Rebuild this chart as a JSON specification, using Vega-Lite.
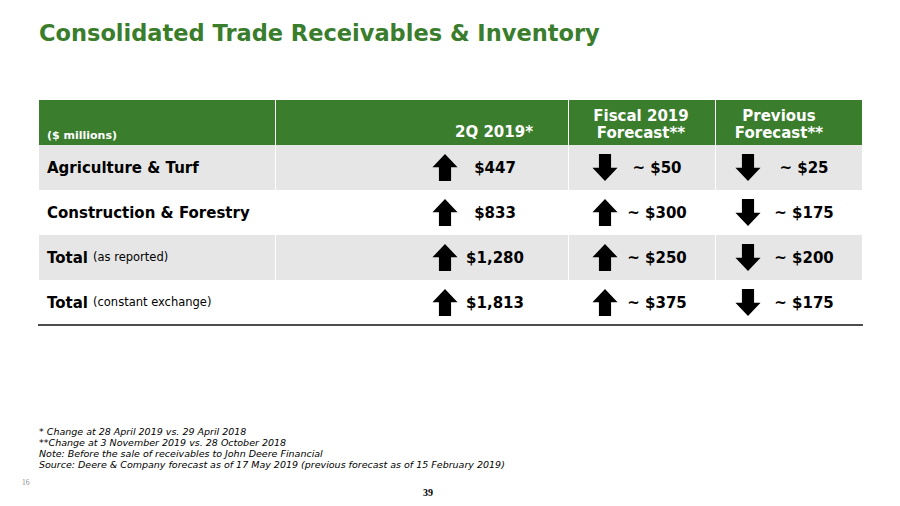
{
  "$schema": "https://vega.github.io/schema/vega-lite/v6.json",
  "background": "white",
  "padding": {"left": 0, "top": 22, "right": 0, "bottom": 0},
  "config": {"view": {"stroke": null}},
  "title": {
    "text": "Consolidated Trade Receivables & Inventory",
    "anchor": "start",
    "frame": "group",
    "font": "DejaVu Sans",
    "fontWeight": "bold",
    "fontSize": 22.5,
    "color": "#3A7D2C",
    "dx": 39,
    "offset": 55
  },
  "datasets": {
    "rows": [{"row": "h"}, {"row": "r1"}, {"row": "r2"}, {"row": "r3"}, {"row": "r4"}],
    "cells": [
      {"row": "h", "col": "label", "text": "($ millions)"},
      {"row": "r1", "col": "label", "text": "Agriculture & Turf", "note": ""},
      {"row": "r2", "col": "label", "text": "Construction & Forestry", "note": ""},
      {"row": "r3", "col": "label", "text": "Total", "note": "(as reported)"},
      {"row": "r4", "col": "label", "text": "Total", "note": "(constant exchange)"},
      {"row": "h", "col": "q2", "text": "2Q 2019*"},
      {"row": "r1", "col": "q2", "text": "$447", "dir": "up"},
      {"row": "r2", "col": "q2", "text": "$833", "dir": "up"},
      {"row": "r3", "col": "q2", "text": "$1,280", "dir": "up"},
      {"row": "r4", "col": "q2", "text": "$1,813", "dir": "up"},
      {"row": "h", "col": "fy", "text": ["Fiscal 2019", "Forecast**"]},
      {"row": "r1", "col": "fy", "text": "~ $50", "dir": "down"},
      {"row": "r2", "col": "fy", "text": "~ $300", "dir": "up"},
      {"row": "r3", "col": "fy", "text": "~ $250", "dir": "up"},
      {"row": "r4", "col": "fy", "text": "~ $375", "dir": "up"},
      {"row": "h", "col": "prev", "text": ["Previous", "Forecast**"]},
      {"row": "r1", "col": "prev", "text": "~ $25", "dir": "down"},
      {"row": "r2", "col": "prev", "text": "~ $175", "dir": "down"},
      {"row": "r3", "col": "prev", "text": "~ $200", "dir": "down"},
      {"row": "r4", "col": "prev", "text": "~ $175", "dir": "down"}
    ],
    "notes": [
      {"line": "f1", "text": "* Change at 28 April 2019 vs. 29 April 2018"},
      {"line": "f2", "text": "**Change at 3 November 2019 vs. 28 October 2018"},
      {"line": "f3", "text": "Note: Before the sale of receivables to John Deere Financial"},
      {"line": "f4", "text": "Source: Deere & Company forecast as of 17 May 2019 (previous forecast as of 15 February 2019)"}
    ],
    "pages": [{"line": "p", "text": "16"}, {"line": "p", "text": "39"}]
  },
  "spacing": 0,
  "resolve": {"scale": {"y": "independent"}},
  "vconcat": [
    {
      "spacing": 1,
      "bounds": "flush",
      "hconcat": [
        {"width": 38, "height": 225, "data": {"values": []}, "mark": "text", "encoding": {}},
        {
          "width": 236, "height": 225,
          "layer": [
            {"data": {"name": "rows"}, "mark": {"type": "rect"},
             "encoding": {
               "y": {"field": "row", "type": "nominal", "scale": {"type": "band", "domain": ["h", "r1", "r2", "r3", "r4"], "paddingInner": 0, "paddingOuter": 0}, "axis": null},
               "color": {"field": "row", "type": "nominal", "scale": {"domain": ["h", "r1", "r2", "r3", "r4"], "range": ["#3A7D2C", "#E6E6E6", "#FFFFFF", "#E6E6E6", "#FFFFFF"]}, "legend": null}}},
            {"data": {"name": "cells"}, "transform": [{"filter": "datum.col === 'label' && datum.row === 'h'"}],
             "mark": {"type": "text", "font": "DejaVu Sans", "fontWeight": "bold", "fontSize": 11, "color": "white", "align": "left", "baseline": "alphabetic", "dx": -110, "dy": 16.5},
             "encoding": {"y": {"field": "row", "type": "nominal", "axis": null}, "text": {"field": "text", "type": "nominal"}}},
            {"data": {"name": "cells"}, "transform": [{"filter": "datum.col === 'label' && datum.row !== 'h'"}],
             "mark": {"type": "text", "font": "DejaVu Sans", "fontWeight": "bold", "fontSize": 15, "color": "black", "align": "left", "baseline": "middle", "dx": -110},
             "encoding": {"y": {"field": "row", "type": "nominal", "axis": null}, "text": {"field": "text", "type": "nominal"}}},
            {"data": {"name": "cells"}, "transform": [{"filter": "datum.col === 'label' && datum.note"}],
             "mark": {"type": "text", "font": "DejaVu Sans", "fontSize": 11.5, "color": "black", "align": "left", "baseline": "middle", "dx": -64},
             "encoding": {"y": {"field": "row", "type": "nominal", "axis": null}, "text": {"field": "note", "type": "nominal"}}},
            {"data": {"name": "rows"}, "transform": [{"filter": "datum.row === 'r4'"}],
             "mark": {"type": "rule", "color": "#4D4D4D", "strokeWidth": 2, "strokeCap": "square"},
             "encoding": {"y": {"field": "row", "type": "nominal", "bandPosition": 1, "axis": null}}}
          ]
        },
        {
          "width": 292, "height": 225,
          "layer": [
            {"data": {"name": "rows"}, "mark": {"type": "rect"},
             "encoding": {
               "y": {"field": "row", "type": "nominal", "scale": {"type": "band", "domain": ["h", "r1", "r2", "r3", "r4"], "paddingInner": 0, "paddingOuter": 0}, "axis": null},
               "color": {"field": "row", "type": "nominal", "scale": {"domain": ["h", "r1", "r2", "r3", "r4"], "range": ["#3A7D2C", "#E6E6E6", "#FFFFFF", "#E6E6E6", "#FFFFFF"]}, "legend": null}}},
            {"data": {"name": "cells"}, "transform": [{"filter": "datum.col === 'q2' && datum.row === 'h'"}],
             "mark": {"type": "text", "font": "DejaVu Sans", "fontWeight": "bold", "fontSize": 15, "color": "white", "align": "right", "baseline": "alphabetic", "dx": 111, "dy": 14.5},
             "encoding": {"y": {"field": "row", "type": "nominal", "axis": null}, "text": {"field": "text", "type": "nominal"}}},
            {"data": {"name": "cells"}, "transform": [{"filter": "datum.col === 'q2' && datum.row !== 'h'"}],
             "mark": {"type": "text", "font": "DejaVu Sans", "fontWeight": "bold", "fontSize": 15, "color": "black", "align": "center", "baseline": "middle", "dx": 73},
             "encoding": {"y": {"field": "row", "type": "nominal", "axis": null}, "text": {"field": "text", "type": "nominal"}}},
            {"data": {"name": "cells"}, "transform": [{"filter": "datum.col === 'q2' && datum.dir"}],
             "mark": {"type": "point", "filled": true, "size": 729, "color": "black", "opacity": 1, "strokeWidth": 0, "xOffset": 23},
             "encoding": {"y": {"field": "row", "type": "nominal", "axis": null},
               "shape": {"field": "dir", "type": "nominal", "scale": {"domain": ["up", "down"], "range": ["M0,-1L0.93,-0.02L0.45,-0.02L0.45,1L-0.45,1L-0.45,-0.02L-0.93,-0.02Z", "M0,1L0.93,0.02L0.45,0.02L0.45,-1L-0.45,-1L-0.45,0.02L-0.93,0.02Z"]}, "legend": null}}},
            {"data": {"name": "rows"}, "transform": [{"filter": "datum.row === 'r4'"}],
             "mark": {"type": "rule", "color": "#4D4D4D", "strokeWidth": 2, "strokeCap": "square"},
             "encoding": {"y": {"field": "row", "type": "nominal", "bandPosition": 1, "axis": null}}}
          ]
        },
        {
          "width": 146, "height": 225,
          "layer": [
            {"data": {"name": "rows"}, "mark": {"type": "rect"},
             "encoding": {
               "y": {"field": "row", "type": "nominal", "scale": {"type": "band", "domain": ["h", "r1", "r2", "r3", "r4"], "paddingInner": 0, "paddingOuter": 0}, "axis": null},
               "color": {"field": "row", "type": "nominal", "scale": {"domain": ["h", "r1", "r2", "r3", "r4"], "range": ["#3A7D2C", "#E6E6E6", "#FFFFFF", "#E6E6E6", "#FFFFFF"]}, "legend": null}}},
            {"data": {"name": "cells"}, "transform": [{"filter": "datum.col === 'fy' && datum.row === 'h'"}],
             "mark": {"type": "text", "font": "DejaVu Sans", "fontWeight": "bold", "fontSize": 15, "color": "white", "align": "center", "baseline": "alphabetic", "lineHeight": 17, "dx": -1, "dy": -1.5},
             "encoding": {"y": {"field": "row", "type": "nominal", "axis": null}, "text": {"field": "text", "type": "nominal"}}},
            {"data": {"name": "cells"}, "transform": [{"filter": "datum.col === 'fy' && datum.row !== 'h'"}],
             "mark": {"type": "text", "font": "DejaVu Sans", "fontWeight": "bold", "fontSize": 15, "color": "black", "align": "center", "baseline": "middle", "dx": 15},
             "encoding": {"y": {"field": "row", "type": "nominal", "axis": null}, "text": {"field": "text", "type": "nominal"}}},
            {"data": {"name": "cells"}, "transform": [{"filter": "datum.col === 'fy' && datum.dir"}],
             "mark": {"type": "point", "filled": true, "size": 729, "color": "black", "opacity": 1, "strokeWidth": 0, "xOffset": -37},
             "encoding": {"y": {"field": "row", "type": "nominal", "axis": null},
               "shape": {"field": "dir", "type": "nominal", "scale": {"domain": ["up", "down"], "range": ["M0,-1L0.93,-0.02L0.45,-0.02L0.45,1L-0.45,1L-0.45,-0.02L-0.93,-0.02Z", "M0,1L0.93,0.02L0.45,0.02L0.45,-1L-0.45,-1L-0.45,0.02L-0.93,0.02Z"]}, "legend": null}}},
            {"data": {"name": "rows"}, "transform": [{"filter": "datum.row === 'r4'"}],
             "mark": {"type": "rule", "color": "#4D4D4D", "strokeWidth": 2, "strokeCap": "square"},
             "encoding": {"y": {"field": "row", "type": "nominal", "bandPosition": 1, "axis": null}}}
          ]
        },
        {
          "width": 146, "height": 225,
          "layer": [
            {"data": {"name": "rows"}, "mark": {"type": "rect"},
             "encoding": {
               "y": {"field": "row", "type": "nominal", "scale": {"type": "band", "domain": ["h", "r1", "r2", "r3", "r4"], "paddingInner": 0, "paddingOuter": 0}, "axis": null},
               "color": {"field": "row", "type": "nominal", "scale": {"domain": ["h", "r1", "r2", "r3", "r4"], "range": ["#3A7D2C", "#E6E6E6", "#FFFFFF", "#E6E6E6", "#FFFFFF"]}, "legend": null}}},
            {"data": {"name": "cells"}, "transform": [{"filter": "datum.col === 'prev' && datum.row === 'h'"}],
             "mark": {"type": "text", "font": "DejaVu Sans", "fontWeight": "bold", "fontSize": 15, "color": "white", "align": "center", "baseline": "alphabetic", "lineHeight": 17, "dx": -10, "dy": -1.5},
             "encoding": {"y": {"field": "row", "type": "nominal", "axis": null}, "text": {"field": "text", "type": "nominal"}}},
            {"data": {"name": "cells"}, "transform": [{"filter": "datum.col === 'prev' && datum.row !== 'h'"}],
             "mark": {"type": "text", "font": "DejaVu Sans", "fontWeight": "bold", "fontSize": 15, "color": "black", "align": "center", "baseline": "middle", "dx": 15},
             "encoding": {"y": {"field": "row", "type": "nominal", "axis": null}, "text": {"field": "text", "type": "nominal"}}},
            {"data": {"name": "cells"}, "transform": [{"filter": "datum.col === 'prev' && datum.dir"}],
             "mark": {"type": "point", "filled": true, "size": 729, "color": "black", "opacity": 1, "strokeWidth": 0, "xOffset": -41},
             "encoding": {"y": {"field": "row", "type": "nominal", "axis": null},
               "shape": {"field": "dir", "type": "nominal", "scale": {"domain": ["up", "down"], "range": ["M0,-1L0.93,-0.02L0.45,-0.02L0.45,1L-0.45,1L-0.45,-0.02L-0.93,-0.02Z", "M0,1L0.93,0.02L0.45,0.02L0.45,-1L-0.45,-1L-0.45,0.02L-0.93,0.02Z"]}, "legend": null}}},
            {"data": {"name": "rows"}, "transform": [{"filter": "datum.row === 'r4'"}],
             "mark": {"type": "rule", "color": "#4D4D4D", "strokeWidth": 2, "strokeCap": "square"},
             "encoding": {"y": {"field": "row", "type": "nominal", "bandPosition": 1, "axis": null}}}
          ]
        }
      ]
    },
    {
      "spacing": 1,
      "bounds": "flush",
      "hconcat": [
        {
          "width": 38, "height": 180,
          "data": {"name": "pages"},
          "transform": [{"filter": "datum.text === '16'"}],
          "mark": {"type": "text", "font": "Liberation Serif", "fontSize": 7.5, "color": "#8C8C8C", "align": "left", "baseline": "middle", "dx": 3, "dy": 7},
          "encoding": {
            "y": {"field": "line", "type": "nominal", "scale": {"type": "point", "domain": ["f1", "f2", "f3", "f4", "p"], "range": [105, 149], "padding": 0}, "axis": null},
            "text": {"field": "text", "type": "nominal"}
          }
        },
        {
          "width": 822, "height": 180,
          "layer": [
            {"data": {"name": "notes"},
             "mark": {"type": "text", "font": "DejaVu Sans", "fontStyle": "italic", "fontSize": 9.5, "color": "black", "align": "left", "baseline": "middle", "dx": -411},
             "encoding": {
               "y": {"field": "line", "type": "nominal", "scale": {"type": "point", "domain": ["f1", "f2", "f3", "f4", "p"], "range": [105, 149], "padding": 0}, "axis": null},
               "text": {"field": "text", "type": "nominal"}}},
            {"data": {"name": "pages"}, "transform": [{"filter": "datum.text === '39'"}],
             "mark": {"type": "text", "font": "Liberation Serif", "fontWeight": "bold", "fontSize": 10, "color": "black", "align": "center", "baseline": "middle", "dx": -22, "dy": 17},
             "encoding": {
               "y": {"field": "line", "type": "nominal", "axis": null},
               "text": {"field": "text", "type": "nominal"}}}
          ]
        }
      ]
    }
  ]
}
